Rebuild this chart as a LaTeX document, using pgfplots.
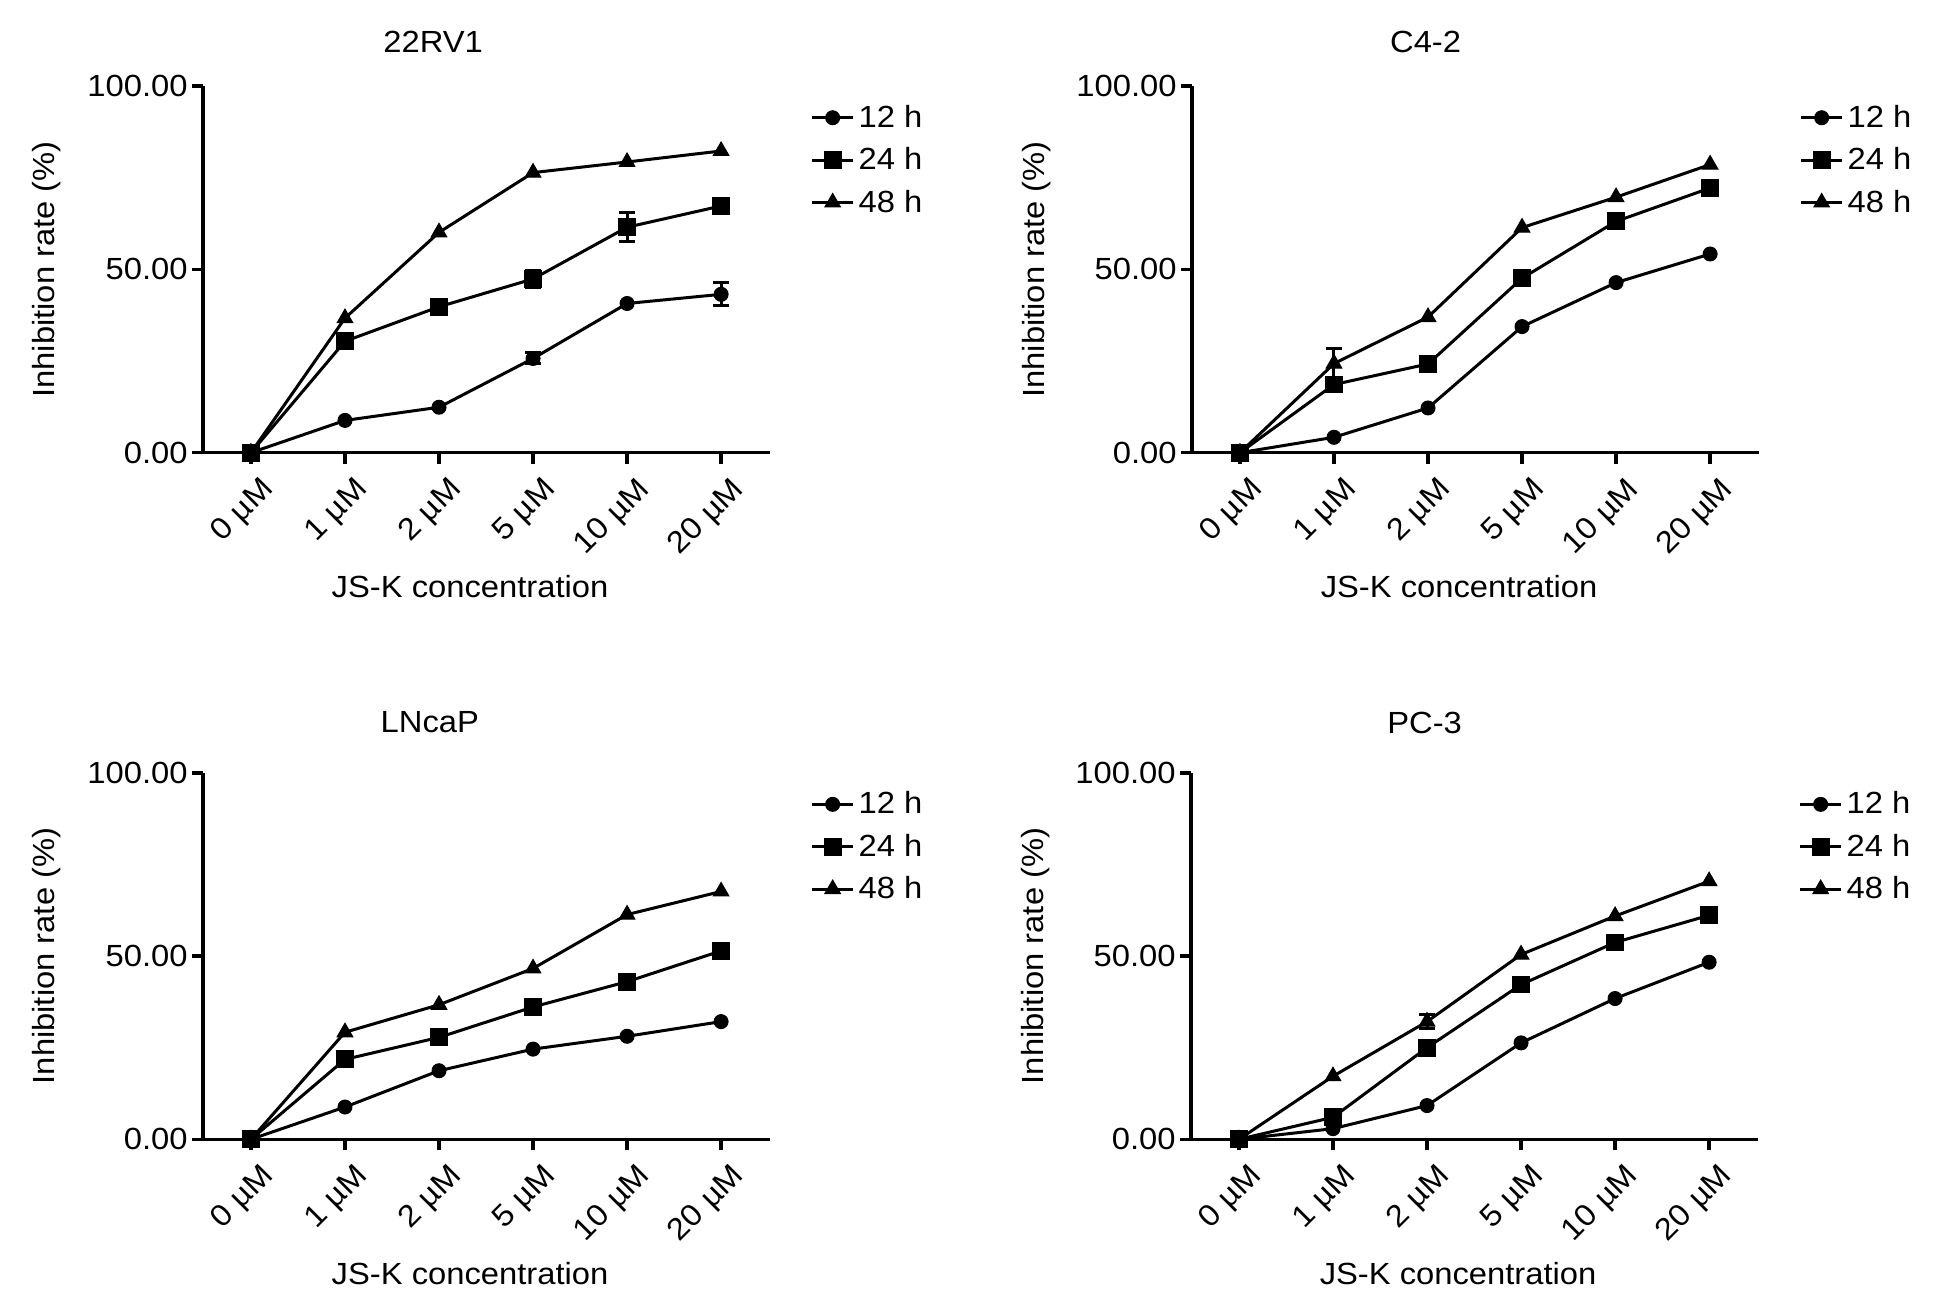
\documentclass[border=0pt]{standalone}
\usepackage{fontspec}
\setmainfont{Liberation Sans}[FakeStretch=1.07]
\usepackage{pgfplots}
\pgfplotsset{compat=1.18}

\pgfplotsset{
  panel/.style={
    scale only axis, width=283.5pt, height=183.3pt,
    xmin=-0.51, xmax=5.52, ymin=0, ymax=100,
    axis x line*=bottom, axis y line*=left,
    axis line style={line width=1.8pt, black},
    every tick/.style={line width=1.8pt, black},
    tick align=outside, major tick length=5.5pt,
    xtick={0,1,2,3,4,5},
    xticklabels={0 µM,1 µM,2 µM,5 µM,10 µM,20 µM},
    ytick={0,50,100}, yticklabels={0.00,50.00,100.00},
    /pgf/number format/assume math mode=true,
    xticklabel style={rotate=45, anchor=north east, inner sep=2pt, yshift=-5pt, xshift=1pt},
    yticklabel style={inner sep=2pt},
    xlabel={JS-K concentration},
    ylabel={Inhibition rate (\%)},
    xlabel style={at={(axis description cs:0.471,-0.365)}, anchor=center},
    ylabel style={at={(axis description cs:-0.275,0.5)}, anchor=center},
    every axis title shift=0pt,
    clip=false,
    legend style={at={(axis description cs:1.071,0.96)}, anchor=north west,
      draw=none, fill=none, inner sep=0pt, row sep=4.6pt,
      nodes={inner sep=2pt}},
    legend cell align=left,
    legend image code/.code={\draw[mark repeat=2,mark phase=2,##1] plot coordinates {(0pt,0pt) (10.25pt,0pt) (20.5pt,0pt)};},
  },
  s12/.style={black, line width=1.5pt, mark=*, mark size=3.5pt, mark options={solid, fill=black, line width=0.5pt}},
  s24/.style={black, line width=1.5pt, mark=square*, mark size=4.2pt, mark options={solid, fill=black, line width=0.5pt}},
  s48/.style={black, line width=1.5pt, mark=triangle*, mark size=4.5pt, mark options={solid, fill=black, line width=0.5pt}},
  eb/.style={black, only marks, mark=none, forget plot,
    error bars/.cd, y dir=both, y explicit,
    error bar style={line width=1.5pt, black},
    error mark options={rotate=90, mark size=4pt, line width=1.5pt, black}},
}

\begin{document}
\begin{tikzpicture}[font=\fontsize{15.3}{18}\selectfont]
\path[use as bounding box] (0,0) rectangle (972.5pt,656.5pt);

% 22RV1
\begin{axis}[panel, at={(101.5pt,430.15pt)}, anchor=south west,
  title={22RV1}, title style={at={(axis description cs:0.406,1.12)}, anchor=center, yshift=0pt}]
\addplot[eb] coordinates {(3,25.7) +- (0,1.5) (5,43.2) +- (0,3.1) (3,47.4) +- (0,2.3) (4,61.5) +- (0,4.0) (5,67.3) +- (0,1.5)};
\addplot[s12] coordinates {(0,0)(1,8.8)(2,12.4)(3,25.7)(4,40.7)(5,43.2)};
\addplot[s24] coordinates {(0,0)(1,30.4)(2,39.8)(3,47.4)(4,61.5)(5,67.3)};
\addplot[s48] coordinates {(0,0)(1,36.7)(2,60.1)(3,76.4)(4,79.3)(5,82.3)};
\legend{12 h,24 h,48 h}
\end{axis}

% C4-2
\begin{axis}[panel, at={(596pt,430.15pt)}, anchor=south west,
  title={C4-2}, title style={at={(axis description cs:0.412,1.12)}, anchor=center, yshift=0pt}]
\addplot[eb] coordinates {(1,18.6) +- (0,2.0) (1,24.3) +- (0,4.0)};
\addplot[s12] coordinates {(0,0)(1,4.2)(2,12.2)(3,34.4)(4,46.4)(5,54.2)};
\addplot[s24] coordinates {(0,0)(1,18.6)(2,24.2)(3,47.6)(4,63.1)(5,72.2)};
\addplot[s48] coordinates {(0,0)(1,24.3)(2,37.0)(3,61.4)(4,69.7)(5,78.6)};
\legend{12 h,24 h,48 h}
\end{axis}

% LNcaP
\begin{axis}[panel, at={(101.5pt,86.85pt)}, anchor=south west,
  title={LNcaP}, title style={at={(axis description cs:0.40,1.137)}, anchor=center, yshift=0pt}]
\addplot[s12] coordinates {(0,0)(1,8.8)(2,18.7)(3,24.6)(4,28.1)(5,32.1)};
\addplot[s24] coordinates {(0,0)(1,21.8)(2,27.8)(3,36.1)(4,43.0)(5,51.4)};
\addplot[s48] coordinates {(0,0)(1,29.2)(2,36.7)(3,46.6)(4,61.3)(5,67.6)};
\legend{12 h,24 h,48 h}
\end{axis}

% PC-3
\begin{axis}[panel, at={(595.5pt,86.85pt)}, anchor=south west,
  title={PC-3}, title style={at={(axis description cs:0.412,1.137)}, anchor=center, yshift=0pt}]
\addplot[eb] coordinates {(2,32.1) +- (0,2.0)};
\addplot[s12] coordinates {(0,0)(1,2.9)(2,9.2)(3,26.3)(4,38.4)(5,48.3)};
\addplot[s24] coordinates {(0,0)(1,6.0)(2,25.0)(3,42.2)(4,53.7)(5,61.1)};
\addplot[s48] coordinates {(0,0)(1,17.2)(2,32.1)(3,50.4)(4,60.9)(5,70.4)};
\legend{12 h,24 h,48 h}
\end{axis}
\end{tikzpicture}
\end{document}
